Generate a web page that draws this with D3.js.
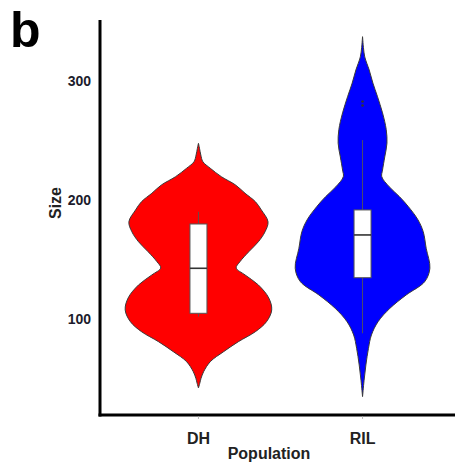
<!DOCTYPE html>
<html>
<head>
<meta charset="utf-8">
<script src="https://cdn.jsdelivr.net/npm/d3@7.9.0/dist/d3.min.js"></script>
<style>
  html, body { margin: 0; padding: 0; background: #fff; }
  svg { display: block; font-family: "Liberation Sans", Arial, sans-serif; }
</style>
</head>
<body>
<script>
// ** Data **
const populations = ["DH", "RIL"];
const colors = ["#ff0000", "#0000ff"];
const yTicks = [100, 200, 300];

// density profile of each violin: [size, relative density]
const dhDensity = [
    [42, 0], [46, 0.018], [50.1, 0.035], [55.7, 0.07], [64.1, 0.16], [72.5, 0.34],
    [80.9, 0.54], [89.3, 0.77], [97.7, 0.92], [107.5, 0.99], [117.6, 0.95],
    [128.5, 0.81], [136.9, 0.63], [142.8, 0.51], [148, 0.56], [156.4, 0.68],
    [164.8, 0.81], [173.2, 0.9], [181.6, 0.94], [191.5, 0.85], [198.4, 0.77],
    [205.5, 0.63], [212.5, 0.5], [219.4, 0.31], [226.5, 0.16], [232, 0.06],
    [237.6, 0.032], [243.3, 0.014], [247.5, 0]
];
const rilDensity = [
    [34.7, 0], [48, 0.02], [61.3, 0.045], [75.3, 0.08], [86.5, 0.12], [97.7, 0.21],
    [108.9, 0.37], [120.1, 0.59], [131.3, 0.84], [142.5, 0.91], [159.3, 0.86],
    [173.2, 0.82], [183.1, 0.75], [194.2, 0.62], [202.6, 0.5], [211, 0.36],
    [219.4, 0.26], [225, 0.27], [236, 0.3], [247.5, 0.33], [259, 0.32], [273, 0.27],
    [287, 0.2], [298, 0.14], [309, 0.09], [320, 0.03], [328, 0.012], [337, 0]
];

// box plot stats: whisker low, q1, median, q3, whisker high
const dhBox = [101.9, 104.7, 142.5, 179.7, 190];
const rilBox = [87.9, 134.6, 170.5, 191.5, 250.2];
const rilOutliers = [279.2, 282.6];

const groups = [
    { name: populations[0], color: colors[0], density: dhDensity, box: dhBox, outliers: [] },
    { name: populations[1], color: colors[1], density: rilDensity, box: rilBox, outliers: rilOutliers }
];

// ** SVG Setup **
const width = 455, height = 463;
const margin = { top: 20, right: -6, bottom: 48, left: 100 };

const svg = d3.select("body")
    .append("svg")
    .attr("width", width)
    .attr("height", height);

// ** Scales **
const x = d3.scalePoint()
    .domain(populations)
    .range([margin.left, width - margin.right])
    .padding(0.6);

const y = d3.scaleLinear()
    .domain([19.3, 351])
    .range([height - margin.bottom, margin.top]);

const w = d3.scaleLinear()
    .domain([0, 1])
    .range([0, 74]);

// ** Violins **
const violin = cx => d3.area()
    .y(d => y(d[0]))
    .x0(d => cx - w(d[1]))
    .x1(d => cx + w(d[1]))
    .curve(d3.curveCatmullRom.alpha(0.5));

const g = svg.selectAll("g.violin")
    .data(groups)
    .enter()
    .append("g")
    .attr("class", "violin");

g.append("path")
    .attr("d", d => violin(x(d.name))(d.density))
    .attr("fill", d => d.color)
    .attr("stroke", "#3a3a3a")
    .attr("stroke-width", 1);

// ** Box plots **
const boxW = 17;

g.append("line")
    .attr("x1", d => x(d.name)).attr("x2", d => x(d.name))
    .attr("y1", d => y(d.box[0])).attr("y2", d => y(d.box[1]))
    .attr("stroke", "#555").attr("stroke-width", 0.9);

g.append("line")
    .attr("x1", d => x(d.name)).attr("x2", d => x(d.name))
    .attr("y1", d => y(d.box[3])).attr("y2", d => y(d.box[4]))
    .attr("stroke", "#555").attr("stroke-width", 0.9);

g.append("rect")
    .attr("x", d => x(d.name) - boxW / 2)
    .attr("y", d => y(d.box[3]))
    .attr("width", boxW)
    .attr("height", d => y(d.box[1]) - y(d.box[3]))
    .attr("fill", "#fff")
    .attr("stroke", "#555")
    .attr("stroke-width", 1);

g.append("line")
    .attr("x1", d => x(d.name) - boxW / 2).attr("x2", d => x(d.name) + boxW / 2)
    .attr("y1", d => y(d.box[2])).attr("y2", d => y(d.box[2]))
    .attr("stroke", "#333").attr("stroke-width", 1.6);

g.selectAll("circle")
    .data(d => d.outliers.map(v => ({ name: d.name, v })))
    .enter()
    .append("circle")
    .attr("cx", d => x(d.name))
    .attr("cy", d => y(d.v))
    .attr("r", 1.3)
    .attr("fill", "#333");

// ** Axes **
const x0 = margin.left, yBase = height - margin.bottom;

svg.append("line")
    .attr("x1", x0).attr("x2", x0)
    .attr("y1", margin.top).attr("y2", yBase + 1.5)
    .attr("stroke", "#000").attr("stroke-width", 3);

svg.append("line")
    .attr("x1", x0 - 1.5).attr("x2", width)
    .attr("y1", yBase).attr("y2", yBase)
    .attr("stroke", "#000").attr("stroke-width", 3);

// y tick labels
svg.selectAll("text.ytick")
    .data(yTicks)
    .enter()
    .append("text")
    .attr("class", "ytick")
    .attr("x", 91)
    .attr("y", d => y(d))
    .attr("dy", "0.36em")
    .attr("text-anchor", "end")
    .style("font-size", "14px")
    .style("font-weight", "bold")
    .style("fill", "#1c1c2c")
    .text(d => d);

// x tick marks and labels
svg.selectAll("line.xtick")
    .data(populations)
    .enter()
    .append("line")
    .attr("class", "xtick")
    .attr("x1", d => x(d)).attr("x2", d => x(d))
    .attr("y1", yBase + 1.5).attr("y2", yBase + 4)
    .attr("stroke", "#bbb").attr("stroke-width", 1);

svg.selectAll("text.xtick")
    .data(populations)
    .enter()
    .append("text")
    .attr("class", "xtick")
    .attr("x", d => x(d))
    .attr("y", 444)
    .attr("text-anchor", "middle")
    .style("font-size", "16px")
    .style("font-weight", "bold")
    .style("fill", "#222")
    .text(d => d);

// ** Axis titles **
svg.append("text")
    .attr("x", 269)
    .attr("y", 459)
    .attr("text-anchor", "middle")
    .style("font-size", "16px")
    .style("font-weight", "bold")
    .style("fill", "#222")
    .text("Population");

svg.append("text")
    .attr("transform", "translate(61,203) rotate(-90)")
    .attr("text-anchor", "middle")
    .style("font-size", "16px")
    .style("font-weight", "bold")
    .style("fill", "#222")
    .text("Size");

// ** Panel letter **
svg.append("text")
    .attr("x", 10)
    .attr("y", 47)
    .style("font-size", "50px")
    .style("font-weight", "bold")
    .style("fill", "#000")
    .text("b");
</script>
</body>
</html>
